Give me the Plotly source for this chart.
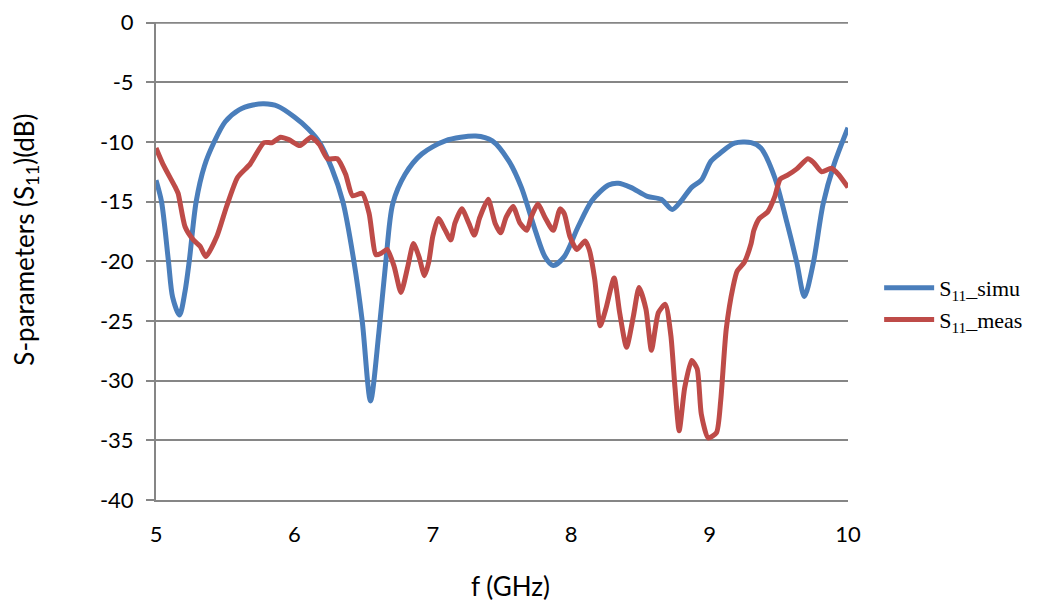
import plotly.graph_objects as go

# S11 simulated
f_simu = [5.00, 5.04, 5.09, 5.12, 5.17, 5.21, 5.24, 5.29, 5.35, 5.42, 5.50, 5.60, 5.70, 5.78,
          5.88, 6.00, 6.10, 6.18, 6.27, 6.35, 6.43, 6.49, 6.55, 6.61, 6.66, 6.71, 6.80,
          6.92, 7.09, 7.31, 7.43, 7.55, 7.64, 7.74, 7.81, 7.87, 7.95, 8.05, 8.15, 8.27,
          8.34, 8.43, 8.55, 8.65, 8.73, 8.79, 8.87, 8.94, 9.01, 9.08, 9.18, 9.30, 9.37,
          9.47, 9.56, 9.63, 9.685, 9.75, 9.82, 9.90, 10.00]
s_simu = [-13.2, -15.0, -20.0, -23.0, -24.5, -22.5, -20.0, -15.0, -12.0, -10.0, -8.3, -7.3, -6.9, -6.8,
          -7.0, -7.9, -8.9, -10.0, -12.2, -15.0, -20.0, -25.0, -31.7, -26.0, -20.1, -15.2, -12.7,
          -11.0, -9.9, -9.5, -9.9, -11.6, -13.8, -17.4, -19.6, -20.35, -19.6, -17.1, -14.9, -13.6,
          -13.45, -13.8, -14.55, -14.8, -15.65, -15.0, -13.8, -13.2, -11.6, -10.9, -10.1, -10.05, -10.5,
          -12.95, -16.8, -20.1, -22.95, -20.1, -15.2, -11.85, -8.8]

# S11 measured
f_meas = [5.00, 5.05, 5.14, 5.16, 5.21, 5.27, 5.32, 5.36, 5.44, 5.51, 5.59, 5.68, 5.78, 5.84,
          5.90, 5.96, 6.04, 6.12, 6.18, 6.24, 6.31, 6.37, 6.42, 6.49, 6.54, 6.59, 6.63,
          6.67, 6.72, 6.77, 6.82, 6.86, 6.90, 6.94, 6.97, 7.00, 7.04, 7.09, 7.13, 7.16,
          7.21, 7.26, 7.30, 7.34, 7.40, 7.45, 7.49, 7.53, 7.58, 7.63, 7.68, 7.71, 7.76,
          7.81, 7.87, 7.92, 7.95, 7.99, 8.04, 8.10, 8.13, 8.17, 8.21, 8.25, 8.31, 8.35,
          8.40, 8.45, 8.49, 8.54, 8.58, 8.63, 8.68, 8.72, 8.75, 8.78, 8.82, 8.87, 8.91,
          8.94, 8.99, 9.05, 9.08, 9.12, 9.17, 9.20, 9.25, 9.30, 9.32, 9.36, 9.42, 9.47,
          9.51, 9.56, 9.63, 9.71, 9.75, 9.81, 9.88, 9.93, 10.00]
s_meas = [-10.5, -11.85, -13.8, -14.3, -17.1, -18.2, -18.75, -19.6, -17.9, -15.4, -12.95, -11.85, -10.05, -10.05,
          -9.6, -9.8, -10.3, -9.6, -10.2, -11.4, -11.4, -12.7, -14.5, -14.3, -16.0, -19.45, -19.3,
          -19.0, -20.4, -22.6, -20.4, -18.5, -19.6, -21.2, -20.1, -17.9, -16.4, -17.4, -18.2, -16.8,
          -15.6, -16.8, -17.8, -16.3, -14.8, -16.8, -17.6, -16.3, -15.4, -16.8, -17.4, -16.3, -15.2,
          -16.3, -17.4, -15.6, -16.0, -17.9, -19.0, -18.3, -19.0, -21.5, -25.4, -24.0, -21.4, -24.3,
          -27.2, -24.55, -22.2, -24.0, -27.45, -24.3, -23.6, -26.2, -30.6, -34.2, -30.6, -28.3, -29.0,
          -32.8, -34.8, -34.35, -31.7, -25.7, -22.1, -20.8, -20.1, -18.5, -17.4, -16.4, -15.85, -14.6,
          -13.1, -12.8, -12.25, -11.4, -11.7, -12.5, -12.2, -12.7, -13.8]

x_ticks = [5, 6, 7, 8, 9, 10]
y_ticks = [0, -5, -10, -15, -20, -25, -30, -35, -40]

fig = go.Figure()
fig.add_trace(go.Scatter(x=f_simu, y=s_simu, mode="lines",
                         name="S<sub>11</sub>_simu",
                         line=dict(color="#4a7ebb", width=5, shape="spline", smoothing=0.8)))
fig.add_trace(go.Scatter(x=f_meas, y=s_meas, mode="lines",
                         name="S<sub>11</sub>_meas",
                         line=dict(color="#be4b48", width=5, shape="spline", smoothing=0.6)))

grid = "#868686"
# top gridline (y = 0) that plotly drops at the range edge
fig.add_shape(type="line", xref="paper", yref="y", x0=0, x1=1,
              y0=max(y_ticks), y1=max(y_ticks), line=dict(color=grid, width=2), layer="below")

fig.update_layout(
    width=1062, height=610,
    margin=dict(l=148, r=222, t=14, b=118, autoexpand=False),
    paper_bgcolor="white", plot_bgcolor="white",
    font=dict(family="Lato, Open Sans, sans-serif", size=22, color="black"),
    showlegend=True,
    legend=dict(x=1.045, y=0.41, xanchor="left", yanchor="middle",
                font=dict(family="Liberation Serif, Times New Roman, serif", size=22),
                bgcolor="rgba(0,0,0,0)", itemwidth=50),
    annotations=[
        dict(text="f (GHz)", xref="paper", yref="paper", x=0.513, y=-0.18,
             xanchor="center", yanchor="middle", showarrow=False,
             font=dict(family="Lato, Open Sans, sans-serif", size=26)),
        dict(text="S-parameters (S<sub>11</sub>)(dB)", xref="paper", yref="paper",
             x=-0.189, y=0.545, xanchor="center", yanchor="middle", textangle=-90,
             showarrow=False, font=dict(family="Lato, Open Sans, sans-serif", size=26)),
    ],
)
fig.update_xaxes(range=[5, 10], tickvals=x_ticks, ticktext=[str(v) for v in x_ticks],
                 showgrid=False, zeroline=False, showline=True, linecolor=grid, linewidth=2,
                 ticks="", ticklabelstandoff=14, automargin=False, ticklabeloverflow="allow")
fig.update_yaxes(range=[-40, 0.06], tickvals=y_ticks, ticktext=[str(v) for v in y_ticks],
                 showgrid=True, gridcolor=grid, gridwidth=2, zeroline=False,
                 showline=True, linecolor=grid, linewidth=2, ticks="outside", ticklen=8,
                 tickcolor=grid, tickwidth=2, ticklabelstandoff=8, automargin=False,
                 ticklabeloverflow="allow")

fig.write_html("out.html")
